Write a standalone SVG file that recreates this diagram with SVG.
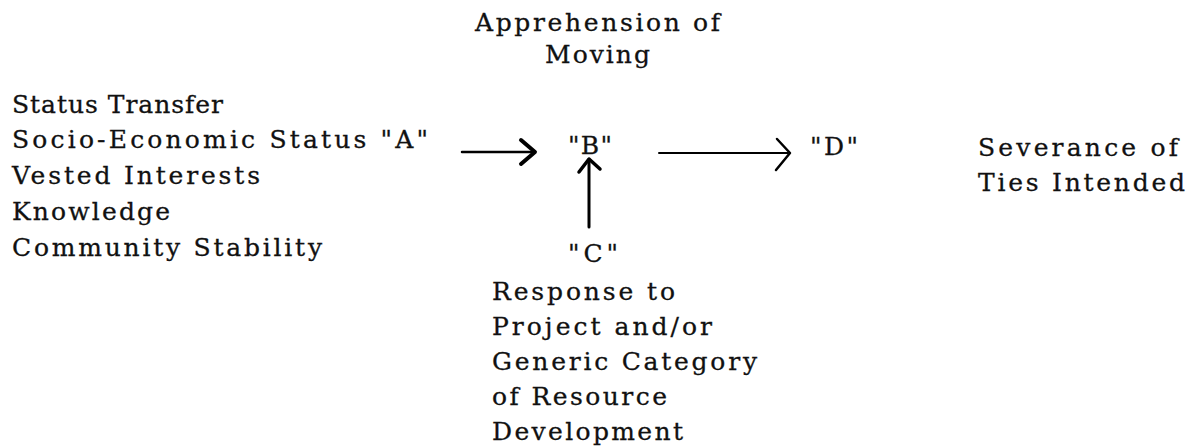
<svg xmlns="http://www.w3.org/2000/svg" width="1199" height="448" viewBox="0 0 1199 448">
<style>
text{font-family:"DejaVu Serif","Liberation Serif",serif;font-size:25px;fill:#111;stroke:#111;stroke-width:0.3}
.ln{stroke:#000;fill:none;stroke-linecap:round;stroke-linejoin:round}
</style>
<rect width="1199" height="448" fill="#fff"/>
<g id="node-apprehension">
<text x="475" y="31" textLength="245">Apprehension of</text>
<text x="545" y="63" textLength="105">Moving</text>
</g>
<g id="node-A">
<text x="12" y="113" textLength="211">Status Transfer</text>
<text x="12" y="148" textLength="416">Socio-Economic Status "A"</text>
<text x="12" y="184" textLength="248">Vested Interests</text>
<text x="12" y="220" textLength="158">Knowledge</text>
<text x="12" y="256" textLength="310">Community Stability</text>
</g>
<g id="node-B">
<text x="568" y="154" textLength="44">"B"</text>
</g>
<g id="node-C">
<text x="568" y="262" textLength="50">"C"</text>
<text x="492" y="300" textLength="183">Response to</text>
<text x="492" y="335" textLength="220">Project and/or</text>
<text x="492" y="370" textLength="265">Generic Category</text>
<text x="492" y="405" textLength="175">of Resource</text>
<text x="492" y="440" textLength="191">Development</text>
</g>
<g id="node-D">
<text x="810" y="155" textLength="48">"D"</text>
</g>
<g id="node-severance">
<text x="978" y="156" textLength="200">Severance of</text>
<text x="978" y="191" textLength="207">Ties Intended</text>
</g>
<g id="connectors">
<path class="ln" d="M462 152 H533" stroke-width="2.5"/>
<path class="ln" d="M521 140 L535 152 L521 164" stroke-width="4"/>
<path class="ln" d="M589 227 V161" stroke-width="3"/>
<path class="ln" d="M579 172 L589 159 L600 169" stroke-width="3.5"/>
<path class="ln" d="M659 153 H788" stroke-width="2"/>
<path class="ln" d="M777 139 L790 153 L776 170" stroke-width="2.5"/>
</g>
</svg>
